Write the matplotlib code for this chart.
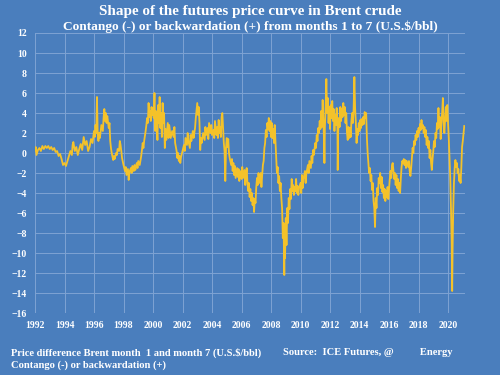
import matplotlib
matplotlib.use('Agg')
import matplotlib.pyplot as plt
import numpy as np
from matplotlib import rc

rc('font', **{'family': 'serif', 'serif': ['Liberation Serif', 'DejaVu Serif'], 'weight': 'bold'})

# Brent month 1 minus month 7, US$/bbl
years = [
    1992.0, 1992.05, 1992.1, 1992.2, 1992.3, 1992.4, 1992.5, 1992.6, 1992.7, 1992.8, 1992.9,
    1993.0, 1993.1, 1993.2, 1993.3, 1993.4, 1993.5, 1993.6, 1993.7, 1993.8, 1993.9,
    1994.0, 1994.1, 1994.2, 1994.3, 1994.4, 1994.5, 1994.55, 1994.6, 1994.7, 1994.8, 1994.9,
    1995.0, 1995.1, 1995.2, 1995.3, 1995.4, 1995.5, 1995.6, 1995.7, 1995.8, 1995.9,
    1996.0, 1996.05, 1996.1, 1996.15, 1996.2, 1996.25, 1996.3, 1996.35, 1996.4, 1996.5, 1996.6,
    1996.65, 1996.7, 1996.75, 1996.8, 1996.85, 1996.9, 1997.0, 1997.05, 1997.1, 1997.15, 1997.2,
    1997.3, 1997.35, 1997.4, 1997.5, 1997.55, 1997.6, 1997.7, 1997.75, 1997.8, 1997.85, 1997.9,
    1998.0, 1998.1, 1998.15, 1998.2, 1998.3, 1998.35, 1998.4, 1998.5, 1998.55, 1998.6, 1998.7,
    1998.75, 1998.8, 1998.9, 1998.95, 1999.0, 1999.1, 1999.2, 1999.25, 1999.3, 1999.35, 1999.4,
    1999.5, 1999.55, 1999.6, 1999.65, 1999.7, 1999.75, 1999.8, 1999.85, 1999.9, 1999.95, 2000.0,
    2000.05, 2000.1, 2000.15, 2000.2, 2000.25, 2000.3, 2000.35, 2000.4, 2000.45, 2000.5, 2000.55,
    2000.6, 2000.65, 2000.7, 2000.75, 2000.8, 2000.85, 2000.9, 2001.0, 2001.05, 2001.1, 2001.2,
    2001.3, 2001.4, 2001.45, 2001.5, 2001.6, 2001.65, 2001.7, 2001.75, 2001.8, 2001.85, 2001.9,
    2002.0, 2002.1, 2002.15, 2002.2, 2002.3, 2002.35, 2002.4, 2002.5, 2002.55, 2002.6, 2002.7,
    2002.75, 2002.85, 2002.9, 2003.0, 2003.05, 2003.1, 2003.15, 2003.2, 2003.25, 2003.3, 2003.4,
    2003.5, 2003.55, 2003.6, 2003.7, 2003.75, 2003.8, 2003.9, 2003.95, 2004.0, 2004.1, 2004.15,
    2004.2, 2004.3, 2004.35, 2004.4, 2004.45, 2004.5, 2004.55, 2004.6, 2004.65, 2004.7, 2004.75,
    2004.8, 2004.85, 2004.9, 2004.95, 2005.0, 2005.05, 2005.1, 2005.15, 2005.2, 2005.3, 2005.35,
    2005.4, 2005.45, 2005.5, 2005.55, 2005.6, 2005.7, 2005.75, 2005.8, 2005.85, 2005.9, 2006.0,
    2006.05, 2006.1, 2006.2, 2006.25, 2006.3, 2006.35, 2006.4, 2006.45, 2006.5, 2006.55, 2006.6,
    2006.65, 2006.7, 2006.75, 2006.8, 2006.85, 2006.9, 2006.95, 2007.0, 2007.05, 2007.1, 2007.15,
    2007.2, 2007.3, 2007.35, 2007.4, 2007.45, 2007.5, 2007.55, 2007.6, 2007.65, 2007.7, 2007.75,
    2007.8, 2007.85, 2007.9, 2007.95, 2008.0, 2008.05, 2008.1, 2008.15, 2008.2, 2008.25, 2008.3,
    2008.35, 2008.4, 2008.45, 2008.5, 2008.55, 2008.6, 2008.65, 2008.7, 2008.75, 2008.8, 2008.85,
    2008.9, 2008.92, 2008.95, 2009.0, 2009.05, 2009.1, 2009.15, 2009.2, 2009.25, 2009.3, 2009.35,
    2009.4, 2009.45, 2009.5, 2009.55, 2009.6, 2009.65, 2009.7, 2009.75, 2009.8, 2009.85, 2009.9,
    2010.0, 2010.05, 2010.1, 2010.15, 2010.2, 2010.3, 2010.35, 2010.4, 2010.5, 2010.55, 2010.6,
    2010.7, 2010.75, 2010.8, 2010.85, 2010.9, 2011.0, 2011.05, 2011.1, 2011.15, 2011.2, 2011.25,
    2011.3, 2011.35, 2011.4, 2011.45, 2011.5, 2011.55, 2011.6, 2011.62, 2011.65, 2011.7, 2011.75,
    2011.8, 2011.85, 2011.9, 2011.95, 2012.0, 2012.05, 2012.1, 2012.15, 2012.2, 2012.25, 2012.3,
    2012.35, 2012.4, 2012.45, 2012.5, 2012.52, 2012.55, 2012.6, 2012.65, 2012.7, 2012.75, 2012.8,
    2012.85, 2012.9, 2012.95, 2013.0, 2013.05, 2013.1, 2013.15, 2013.2, 2013.25, 2013.3, 2013.35,
    2013.4, 2013.45, 2013.5, 2013.55, 2013.6, 2013.65, 2013.7, 2013.75, 2013.8, 2013.85, 2013.9,
    2013.95, 2014.0, 2014.05, 2014.1, 2014.15, 2014.2, 2014.25, 2014.3, 2014.35, 2014.4, 2014.45,
    2014.5, 2014.55, 2014.6, 2014.65, 2014.7, 2014.75, 2014.8, 2014.85, 2014.9, 2014.95, 2015.0,
    2015.05, 2015.1, 2015.15, 2015.2, 2015.25, 2015.3, 2015.35, 2015.4, 2015.45, 2015.5, 2015.55,
    2015.6, 2015.65, 2015.7, 2015.75, 2015.8, 2015.85, 2015.9, 2015.95, 2016.0, 2016.05, 2016.1,
    2016.15, 2016.2, 2016.25, 2016.3, 2016.35, 2016.4, 2016.45, 2016.5, 2016.55, 2016.6, 2016.65,
    2016.7, 2016.75, 2016.8, 2016.85, 2016.9, 2016.95, 2017.0, 2017.05, 2017.1, 2017.15, 2017.2,
    2017.3, 2017.35, 2017.4, 2017.45, 2017.5, 2017.55, 2017.6, 2017.65, 2017.7, 2017.75, 2017.8,
    2017.85, 2017.9, 2017.95, 2018.0, 2018.05, 2018.1, 2018.15, 2018.2, 2018.25, 2018.3, 2018.35,
    2018.4, 2018.45, 2018.5, 2018.55, 2018.6, 2018.65, 2018.7, 2018.75, 2018.8, 2018.85, 2018.9,
    2018.95, 2019.0, 2019.05, 2019.1, 2019.15, 2019.2, 2019.25, 2019.3, 2019.35, 2019.4, 2019.45,
    2019.5, 2019.55, 2019.6, 2019.65, 2019.7, 2019.75, 2019.8, 2019.85, 2019.9, 2019.95, 2020.0,
    2020.05, 2020.1, 2020.15, 2020.2, 2020.25, 2020.28, 2020.31, 2020.35, 2020.4, 2020.45, 2020.5,
    2020.55, 2020.6, 2020.65, 2020.7, 2020.75, 2020.8, 2020.85, 2020.9, 2020.95, 2021.0, 2021.05,
    2021.1,
]
spread = [
    0.2, 0.6, -0.2, 0.3, 0.5, 0.2, 0.7, 0.4, 0.7, 0.5, 0.7,
    0.4, 0.6, 0.3, 0.5, 0.1, 0.2, -0.3, -0.1, -0.6, -1.2,
    -1.0, -1.3, -0.8, -0.3, 0.2, -0.2, 0.8, 1.1, 0.2, 0.6, -0.2,
    0.4, 0.9, 0.3, 1.6, 0.8, 1.2, 0.2, 0.6, 1.4, 1.0,
    2.2, 1.6, 2.8, 2.0, 5.6, 2.0, 1.2, 2.0, 1.5, 2.8, 2.2,
    3.5, 4.4, 3.2, 4.0, 3.0, 3.7, 2.5, 3.0, 1.2, 0.5, 0.0,
    -0.7, -0.3, -0.6, 0.0, -0.2, 0.4, 0.2, 1.2, 0.8, 0.2, -0.5,
    -1.2, -1.8, -1.4, -2.2, -1.6, -2.7, -1.9, -1.5, -2.0, -1.3, -1.8,
    -1.2, -1.7, -1.0, -1.5, -0.8, -1.2, -0.3, 0.3, 1.0, 0.5, 1.2,
    2.2, 2.8, 3.5, 3.0, 5.0, 3.6, 4.2, 3.2, 4.6, 3.8, 4.5,
    3.5, 6.0, 2.2, 4.2, 3.0, 1.3, 4.8, 3.0, 5.6, 2.5, 4.0,
    1.6, 5.0, 3.0, 4.0, 0.5, 2.4, 1.3, 3.0, 1.5, 2.8, 1.5,
    2.2, 1.6, 2.6, 1.0, 0.2, -0.5, 0.0, -0.8, -0.3, -1.0, -0.4,
    0.2, 0.8, 0.2, 1.5, 0.8, 2.0, 1.2, 0.5, 1.8, 1.2, 2.2,
    1.5, 2.5, 3.5, 5.0, 3.8, 4.6, 3.0, 0.3, 1.5, 1.0, 2.0,
    1.3, 2.6, 1.8, 2.5, 1.4, 3.0, 2.0, 2.8, 1.8, 2.3, 1.5,
    3.2, 1.8, 2.6, 1.5, 3.3, 2.0, 2.6, 1.6, 3.6, 4.0, 2.5,
    1.0, 0.2, -2.8, 0.5, 1.5, 0.6, 1.4, 0.0, -0.5, -1.2, -0.6,
    -1.8, -1.0, -2.2, -1.3, -2.5, -1.5, -2.4, -1.6, -2.8, -1.8, -2.6,
    -1.4, -2.5, -1.7, -3.2, -2.2, -1.5, -3.0, -3.8, -3.0, -4.4, -3.6,
    -4.8, -4.0, -5.2, -4.5, -5.9, -4.6, -5.0, -3.4, -2.5, -3.2, -2.0,
    -3.0, -2.0, -3.4, -2.2, -1.2, -0.8, 0.5, 1.0, 2.3, 1.6, 3.0,
    2.4, 3.5, 2.2, 3.2, 1.6, 3.0, 1.5, 2.4, 1.0, 2.8, 1.2,
    -0.5, -2.0, -1.4, -3.0, -2.3, -3.8, -3.0, -4.5, -5.5, -8.5, -7.0,
    -12.2, -9.0, -10.5, -6.5, -9.2, -5.5, -7.0, -4.5, -5.6, -3.6, -4.6,
    -2.6, -3.8, -3.2, -4.2, -3.4, -3.8, -2.6, -4.0, -3.3, -4.2, -3.5,
    -3.0, -4.0, -2.2, -3.5, -2.6, -1.8, -3.0, -2.0, -1.2, -2.0, -0.8,
    -1.5, -0.3, -1.0, 0.3, -0.2, 1.0, 0.5, 1.8, 1.2, 2.5, 2.0,
    3.2, 2.4, 4.2, 2.6, 5.3, 3.0, 1.0, -1.0, 2.5, 4.5, 7.4,
    4.0, 5.5, 3.0, 4.6, 2.4, 4.8, 3.5, 5.2, 3.2, 4.4, 2.2,
    3.8, 2.8, 4.5, 3.0, -1.7, 2.0, 3.5, 2.6, 4.6, 3.2, 4.4,
    3.6, 5.0, 3.8, 4.6, 3.0, 4.0, 2.0, 1.3, 2.6, 1.5, 2.5,
    1.6, 3.2, 4.0, 3.0, 4.4, 7.6, 4.5, 3.0, 1.0, 2.4, 1.8,
    3.0, 2.2, 3.3, 2.5, 3.4, 2.8, 3.6, 2.9, 4.1, 3.5, 4.0,
    1.5, 0.0, -1.0, -2.0, -1.5, -2.8, -2.2, -3.7, -3.0, -4.8, -5.5,
    -7.4, -4.5, -5.5, -3.5, -4.2, -2.5, -3.0, -2.0, -3.5, -2.4, -3.9,
    -3.2, -4.5, -3.6, -4.8, -3.8, -4.4, -3.4, -4.6, -3.6, -2.6, -1.8,
    -2.5, -1.2, -1.0, -1.8, -2.6, -2.0, -3.2, -2.2, -3.5, -2.6, -3.8,
    -3.0, -4.0, -2.5, -1.4, -0.8, -1.0, -0.6, -1.2, -0.7, -1.5, -0.8,
    -1.4, -0.8, -1.8, -2.3, -1.5, -0.5, 0.5, 0.0, 1.2, 0.8, 1.8,
    1.3, 2.2, 1.6, 2.5, 2.0, 2.9, 2.3, 3.3, 2.5, 2.8, 2.0,
    2.6, 1.6, 2.3, 0.8, 1.6, 0.5, 1.2, -0.5, 0.3, -1.0, -1.7,
    -0.6, 0.2, 1.2, 0.6, 2.0, 1.5, 3.0, 2.4, 4.5, 2.6, 3.6,
    1.4, 3.0, 4.0, 5.5, 3.0, 2.0, 3.4, 4.6, 3.2, 4.8, 3.0,
    1.5, -0.4, -2.5, -5.5, -9.0, -13.8, -9.5, -5.8, -3.0, -1.5, -0.7,
    -1.4, -1.0, -2.0, -1.6, -2.8, -2.2, -3.0, -1.5, 0.6, 1.2, 2.0,
    2.7,
]

year_ticks = list(range(1992, 2021, 2))
value_ticks = list(range(-16, 13, 2))

bg = '#4a7ebd'
grid_col = '#7ea3d3'
line_col = '#f4c22a'

fig = plt.figure(figsize=(5, 3.75), dpi=100)
fig.patch.set_facecolor(bg)
ax = fig.add_axes([0.07, 0.1653, 0.86, 0.7467])
ax.set_facecolor(bg)

ax.plot(years, spread, color=line_col, lw=1.3, zorder=3)

ax.set_xlim(1992, 2021.15)
ax.set_ylim(-16, 12)
ax.set_xticks(year_ticks)
ax.set_yticks(value_ticks)
ax.tick_params(length=0, colors='white', labelsize=7, pad=6)
for lab in ax.get_xticklabels() + ax.get_yticklabels():
    lab.set_fontweight('bold')
ax.grid(color=grid_col, lw=0.7, zorder=0)
for s in ax.spines.values():
    s.set_visible(False)

fig.text(0.5, 0.968, 'Shape of the futures price curve in Brent crude', color='white',
         ha='center', va='center', fontsize=10.9, fontweight='bold')
fig.text(0.5, 0.928, 'Contango (-) or backwardation (+) from months 1 to 7 (U.S.$/bbl)',
         color='white', ha='center', va='center', fontsize=9.6, fontweight='bold')
fig.text(0.022, 0.059, 'Price difference Brent month  1 and month 7 (U.S.$/bbl)', color='white',
         ha='left', va='center', fontsize=7.6, fontweight='bold')
fig.text(0.022, 0.027, 'Contango (-) or backwardation (+)', color='white',
         ha='left', va='center', fontsize=7.6, fontweight='bold')
fig.text(0.566, 0.059, 'Source:  ICE Futures, @          Energy', color='white',
         ha='left', va='center', fontsize=7.6, fontweight='bold')

fig.savefig('out.png', dpi=100, facecolor=bg)
